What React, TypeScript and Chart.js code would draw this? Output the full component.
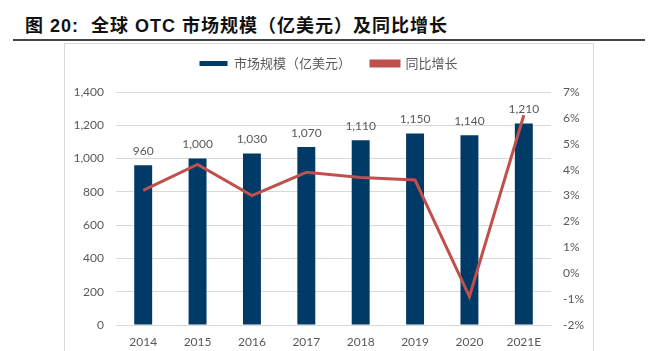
import React, { useEffect, useRef } from "react";
import { Chart, registerables } from "chart.js";

Chart.register(...registerables);

const categories = ["2014", "2015", "2016", "2017", "2018", "2019", "2020", "2021E"];
const marketSize = [960, 1000, 1030, 1070, 1110, 1150, 1140, 1210];
const growthPct = [3.2, 4.2, 3.0, 3.9, 3.7, 3.6, -0.9, 6.1];
const seriesNames = ["市场规模（亿美元）", "同比增长"];
const titleText = "图 20:  全球 OTC 市场规模（亿美元）及同比增长";

const BAR_COLOR = "#003A66";
const LINE_COLOR = "#C0504D";
const TEXT_COLOR = "#595959";
const GRID_COLOR = "#D9D9D9";
const NUM_FONT = "Lato, 'Open Sans', 'Liberation Sans', sans-serif";
const CJK_FONT = "'Noto Sans CJK SC', 'Noto Sans', sans-serif";

const fmtThousands = (v: number) => v.toLocaleString("en-US");

const legendHeightPlugin = {
  id: "legendHeight",
  beforeInit(chart: any) {
    if (!chart.legend) return;
    const fit = chart.legend.fit;
    chart.legend.fit = function () {
      fit.bind(chart.legend)();
      this.height = 55;
    };
  },
};

const barLabelsPlugin = {
  id: "barLabels",
  afterDatasetDraw(chart: any, args: any) {
    if (args.index !== 0) return;
    const ctx = chart.ctx;
    const meta = chart.getDatasetMeta(0);
    ctx.save();
    ctx.fillStyle = TEXT_COLOR;
    ctx.font = `12px ${NUM_FONT}`;
    ctx.textAlign = "center";
    ctx.textBaseline = "middle";
    meta.data.forEach((el: any, i: number) => {
      ctx.fillText(fmtThousands(marketSize[i]), el.x, el.y - 14);
    });
    ctx.restore();
  },
};

export default function App() {
  const ref = useRef<HTMLCanvasElement>(null);

  useEffect(() => {
    if (!ref.current) return;
    const chart = new Chart(ref.current, {
      type: "bar",
      data: {
        labels: categories,
        datasets: [
          {
            type: "bar",
            label: seriesNames[0],
            data: marketSize,
            backgroundColor: BAR_COLOR,
            borderWidth: 0,
            categoryPercentage: 1,
            barPercentage: 0.33,
            yAxisID: "y",
            order: 2,
          },
          {
            type: "line",
            label: seriesNames[1],
            data: growthPct,
            borderColor: LINE_COLOR,
            backgroundColor: LINE_COLOR,
            borderWidth: 3,
            pointRadius: 0,
            tension: 0,
            yAxisID: "y1",
            order: 1,
          } as any,
        ],
      },
      options: {
        animation: false,
        responsive: false,
        maintainAspectRatio: false,
        layout: { padding: 0 },
        plugins: {
          tooltip: { enabled: false },
          legend: {
            position: "top",
            labels: {
              boxWidth: 28,
              boxHeight: 5,
              padding: 20,
              color: TEXT_COLOR,
              font: { size: 13, family: CJK_FONT },
              sort: (a: any, b: any) => a.datasetIndex - b.datasetIndex,
            },
          },
        },
        scales: {
          x: {
            grid: { display: false, drawTicks: false },
            border: { display: true, color: GRID_COLOR },
            ticks: {
              color: TEXT_COLOR,
              font: { size: 12, family: NUM_FONT },
              padding: 10,
              maxRotation: 0,
            },
            afterFit: (s: any) => {
              s.height = 26;
            },
          },
          y: {
            position: "left",
            min: 0,
            max: 1400,
            grid: { color: GRID_COLOR, drawTicks: false },
            border: { display: false },
            ticks: {
              stepSize: 200,
              color: TEXT_COLOR,
              font: { size: 12, family: NUM_FONT },
              padding: 12,
              callback: (v: any) => fmtThousands(Number(v)),
            },
            afterFit: (s: any) => {
              s.width = 52;
            },
          },
          y1: {
            position: "right",
            min: -2,
            max: 7,
            grid: { drawOnChartArea: false, drawTicks: false },
            border: { display: false },
            ticks: {
              stepSize: 1,
              color: TEXT_COLOR,
              font: { size: 12, family: NUM_FONT },
              padding: 12,
              callback: (v: any) => `${Math.round(Number(v))}%`,
            },
            afterFit: (s: any) => {
              s.width = 42;
            },
          },
        },
      },
      plugins: [legendHeightPlugin, barLabelsPlugin],
    });
    return () => chart.destroy();
  }, []);

  return (
    <div
      style={{
        position: "absolute",
        left: 0,
        top: 0,
        width: 652,
        height: 351,
        background: "#fff",
        overflow: "hidden",
      }}
    >
      <div
        style={{
          position: "absolute",
          left: 25,
          top: 14,
          fontFamily: "'Liberation Sans', 'Noto Sans CJK SC', sans-serif",
          fontWeight: "bold",
          fontSize: 18,
          letterSpacing: 1,
          lineHeight: "24px",
          color: "#111",
          whiteSpace: "pre",
        }}
      >
        {titleText}
      </div>
      <div
        style={{
          position: "absolute",
          left: 13,
          top: 39,
          width: 632,
          height: 2,
          background: "#444",
        }}
      />
      <div
        style={{
          position: "absolute",
          left: 64,
          top: 43,
          width: 528,
          height: 330,
          border: `1px solid ${GRID_COLOR}`,
        }}
      />
      <canvas
        ref={ref}
        width={529}
        height={314}
        style={{ position: "absolute", left: 64, top: 37, width: 529, height: 314 }}
      />
    </div>
  );
}
